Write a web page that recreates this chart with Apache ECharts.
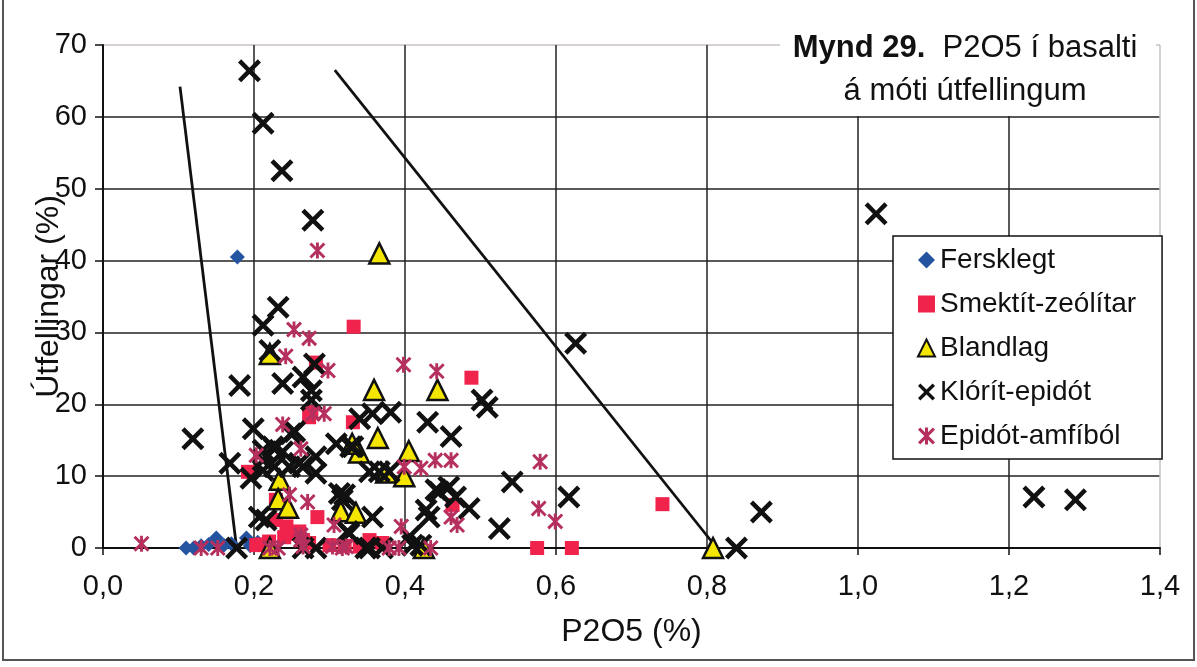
<!DOCTYPE html>
<html>
<head>
<meta charset="utf-8">
<script src="https://cdn.jsdelivr.net/npm/echarts@6/dist/echarts.min.js"></script>
<style>html,body{margin:0;padding:0;background:#fff}#c{width:1197px;height:667px}</style>
</head>
<body>
<div id="c"></div>
<script>
// ---- data (P2O5 %, Útfellingar %) ----
const seriesNames = ['Fersklegt', 'Smektít-zeólítar', 'Blandlag', 'Klórít-epidót', 'Epidót-amfíból'];
const fersklegt = [[0.11,0],[0.12,0],[0.13,0.3],[0.14,0.5],[0.15,1.4],[0.16,0.4],[0.17,0.6],[0.178,40.5],[0.19,1.4],[0.195,0.3],[0.205,0.8]];
const smektit = [[0.332,30.8],[0.488,23.7],[0.741,6.1],[0.575,0],[0.621,0],[0.331,17.5],[0.282,25.8],[0.273,18.2],[0.276,18.9],[0.192,10.6],[0.284,4.3],[0.463,6.0],[0.229,3.9],[0.243,3.0],[0.251,2.0],[0.203,0.4],[0.22,0.9],[0.256,2.0],[0.265,1.1],[0.273,0.7],[0.3,0.4],[0.353,1.1],[0.37,0.7],[0.26,2.3],[0.229,6.7],[0.21,0.5],[0.24,1.5],[0.32,0.3],[0.34,0.2]];
const blandlag = [[0.366,41],[0.808,0],[0.221,27],[0.359,22],[0.443,22],[0.364,15.3],[0.405,13.5],[0.375,10.5],[0.399,10],[0.234,9.5],[0.232,6.8],[0.245,5.6],[0.315,5.1],[0.335,4.9],[0.339,13.3],[0.425,0],[0.221,0],[0.33,14.5]];
const kloritEpidot = [[0.194,66.4],[0.212,59.1],[0.237,52.5],[0.278,45.6],[1.024,46.5],[0.626,28.5],[0.872,5.0],[0.839,0],[1.233,7.1],[1.288,6.7],[0.617,7.1],[0.542,9.2],[0.525,2.7],[0.502,20.6],[0.509,19.6],[0.232,33.5],[0.212,31.0],[0.221,27.5],[0.28,25.6],[0.181,22.6],[0.238,22.9],[0.265,23.8],[0.276,21.9],[0.276,20.6],[0.119,15.2],[0.199,16.6],[0.168,11.8],[0.227,13.8],[0.212,13.6],[0.249,15.9],[0.212,10.8],[0.227,11.3],[0.247,11.3],[0.265,11.3],[0.282,12.7],[0.282,10.4],[0.309,14.5],[0.331,14.1],[0.34,18.0],[0.357,18.7],[0.381,18.9],[0.43,17.5],[0.461,15.5],[0.353,10.6],[0.379,10.6],[0.445,7.8],[0.458,8.5],[0.467,7.1],[0.485,5.5],[0.313,7.6],[0.317,6.7],[0.207,4.3],[0.216,3.9],[0.357,4.3],[0.432,4.3],[0.326,2.0],[0.406,1.6],[0.177,0],[0.282,0],[0.353,0],[0.37,0],[0.41,0.4],[0.225,14.1],[0.238,13.4],[0.212,12.2],[0.196,9.7],[0.26,11.8],[0.328,14.1],[0.441,8.1],[0.428,5.3],[0.32,7.4],[0.324,2.3],[0.265,0],[0.348,0],[0.421,0.4],[0.366,10.6],[0.254,16.2]];
const epidotAmfibol = [[0.284,41.4],[0.253,30.4],[0.273,29.2],[0.242,26.7],[0.298,24.7],[0.398,25.5],[0.442,24.6],[0.278,18.7],[0.293,18.7],[0.238,17.2],[0.262,13.8],[0.203,12.9],[0.44,12.2],[0.461,12.2],[0.399,11.3],[0.421,11.1],[0.247,7.4],[0.271,6.4],[0.306,3.2],[0.395,3.0],[0.461,4.3],[0.469,3.2],[0.051,0.6],[0.13,0],[0.152,0],[0.221,0],[0.232,0],[0.262,1.8],[0.265,0.2],[0.304,0.2],[0.322,0.2],[0.379,0],[0.392,0],[0.434,0],[0.579,12.0],[0.577,5.5],[0.599,3.7],[0.262,1.1],[0.317,0]];
const boundaryLeft = [[0.102,64.2],[0.177,0]];
const boundaryRight = [[0.307,66.5],[0.813,0]];
const titleLine1Bold = 'Mynd 29.';
const titleLine1 = '  P2O5 í basalti';
const titleLine2 = 'á móti útfellingum';
const xName = 'P2O5 (%)';
const yName = 'Útfellingar (%)';

const FONT = '"Liberation Sans", Arial, sans-serif';
const X_PATH = 'path://M0,14 L14,0 L50,36 L86,0 L100,14 L64,50 L100,86 L86,100 L50,64 L14,100 L0,86 L36,50 Z';
const AST_PATH = 'path://M41,0 L59,0 L59,100 L41,100 Z M0,13 L13,0 L100,87 L87,100 Z M87,0 L100,13 L13,100 L0,87 Z';

const chart = echarts.init(document.getElementById('c'));
const gridColors = ['#222','#222','#222','#222','#222','#222','#222','#c8c0c8'];
chart.setOption({
  backgroundColor: '#ffffff',
  animation: false,
  grid: { left: 103, right: 37, top: 45, bottom: 119 },
  xAxis: {
    type: 'value', min: 0, max: 1.4, interval: 0.2,
    name: xName, nameLocation: 'middle', nameGap: 68, nameMoveOverlap: false,
    nameTextStyle: { fontFamily: FONT, fontSize: 32, color: '#111' },
    axisLine: { lineStyle: { color: '#111', width: 2 } },
    axisTick: { show: true, inside: false, length: 7, lineStyle: { color: '#111', width: 1.5 } },
    axisLabel: { fontFamily: FONT, fontSize: 29, color: '#111', margin: 24,
      formatter: v => v.toFixed(1).replace('.', ',') },
    splitLine: { show: true, lineStyle: { color: gridColors, width: 1.5 } }
  },
  yAxis: {
    type: 'value', min: 0, max: 70, interval: 10,
    name: yName, nameLocation: 'middle', nameGap: 38, nameRotate: 90, nameMoveOverlap: false,
    nameTextStyle: { fontFamily: FONT, fontSize: 32, color: '#111' },
    axisLine: { show: true, lineStyle: { color: '#111', width: 2 } },
    axisTick: { show: true, inside: false, length: 8, lineStyle: { color: '#111', width: 1.5 } },
    axisLabel: { fontFamily: FONT, fontSize: 29, color: '#111', margin: 16 },
    splitLine: { show: true, lineStyle: { color: gridColors, width: 1.5 } }
  },
  legend: {
    data: seriesNames,
    orient: 'vertical', left: 893, top: 236,
    padding: [10, 26, 9, 24], itemGap: 16, itemWidth: 17, itemHeight: 17,
    backgroundColor: '#ffffff', borderColor: '#111', borderWidth: 1.5, borderRadius: 0,
    textStyle: { fontFamily: FONT, fontSize: 28, color: '#111' }
  },
  graphic: [
    { type: 'polyline', silent: true, z: 100,
      shape: { points: [[3,0],[3,660],[1194,660],[1194,0]] },
      style: { stroke: '#555', lineWidth: 2, fill: null } },
    { type: 'rect', silent: true, z: 50, shape: { x: 780, y: 26, width: 376, height: 90 },
      style: { fill: '#ffffff' } },
    { type: 'text', silent: true, z: 51, x: 965, y: 48,
      style: { text: '{b|' + titleLine1Bold + '}' + titleLine1,
        rich: { b: { fontFamily: FONT, fontSize: 31, fontWeight: 'bold', fill: '#111' } },
        font: '31px ' + FONT, fill: '#111', align: 'center', verticalAlign: 'middle' } },
    { type: 'text', silent: true, z: 51, x: 965, y: 91,
      style: { text: titleLine2, font: '31px ' + FONT, fill: '#111', align: 'center', verticalAlign: 'middle' } }
  ],
  series: [
    { type: 'line', name: 'boundaryLeft', data: boundaryLeft, showSymbol: false, symbol: 'none', silent: true,
      lineStyle: { color: '#111', width: 2.8 }, z: 1 },
    { type: 'line', name: 'boundaryRight', data: boundaryRight, showSymbol: false, symbol: 'none', silent: true,
      lineStyle: { color: '#111', width: 2.8 }, z: 1 },
    { type: 'scatter', name: seriesNames[0], data: fersklegt, symbol: 'diamond', symbolSize: 15,
      itemStyle: { color: '#2453a0', opacity: 1 } },
    { type: 'scatter', name: seriesNames[1], data: smektit, symbol: 'rect', symbolSize: 14,
      itemStyle: { color: '#f0234d', opacity: 1 } },
    { type: 'scatter', name: seriesNames[2], data: blandlag, symbol: 'triangle', symbolSize: 20,
      itemStyle: { color: '#f4e600', borderColor: '#111', borderWidth: 2.5, opacity: 1 } },
    { type: 'scatter', name: seriesNames[3], data: kloritEpidot, symbol: X_PATH, symbolSize: 23,
      itemStyle: { color: '#111', opacity: 1 } },
    { type: 'scatter', name: seriesNames[4], data: epidotAmfibol, symbol: AST_PATH, symbolSize: 16,
      itemStyle: { color: '#b5305e', opacity: 1 } }
  ]
});
</script>
</body>
</html>
